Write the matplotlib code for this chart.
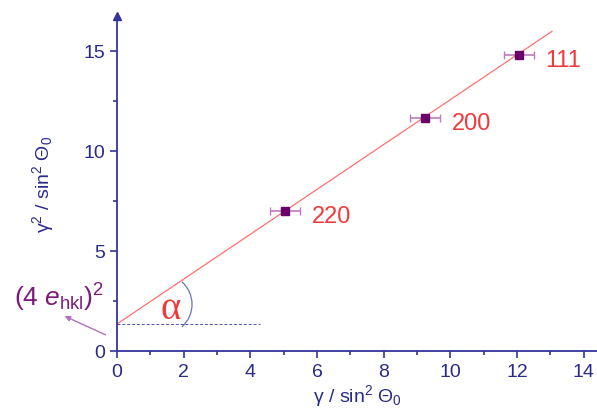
import matplotlib.pyplot as plt
from matplotlib.patches import Arc

plt.rcParams['font.family'] = ['Liberation Sans', 'DejaVu Sans']
plt.rcParams['mathtext.fontset'] = 'custom'
plt.rcParams['mathtext.rm'] = 'Liberation Sans'
plt.rcParams['mathtext.it'] = 'Liberation Sans:italic'

# Data
x_vals = [5.05, 9.25, 12.05]
y_vals = [7.0, 11.65, 14.8]
x_err = [0.45, 0.45, 0.45]
hkl = ['220', '200', '111']
intercept = 1.35
slope = 1.12
fit_x = [0, 13.05]

axis_col = '#34349c'
tick_col = '#2a2a88'
red = '#f03a3a'
purple = '#7a1a7a'

fig = plt.figure(figsize=(5.97, 4.10), dpi=100)
ax = fig.add_axes([0.196, 0.1415, 0.804, 0.818])

# Fit line
ax.plot(fit_x, [intercept + slope * v for v in fit_x], color='#ff7070', lw=0.9, zorder=2)

# Points with error bars
ax.errorbar(x_vals, y_vals, xerr=x_err, fmt='s', ms=5.5, color='#6a006a',
            ecolor='#c07ac0', elinewidth=1.2, capsize=3, capthick=1.0, zorder=3)
for xv, yv, lab in zip(x_vals, y_vals, hkl):
    ax.text(xv + 0.8, yv - 0.25, lab, color=red, fontsize=17, ha='left', va='center')

# Dashed horizontal line at intercept
ax.plot([0, 4.3], [intercept, intercept], ls=(0, (3, 2)), color='#5050a8', lw=0.7)

# Angle arc and alpha
ax.add_patch(Arc((1.35, 2.33), 1.8, 3.0, theta1=-62, theta2=62, color='#6a78b0', lw=0.9))
ax.text(1.62, 2.1, 'α', family='Liberation Serif', color=red, fontsize=28,
        ha='center', va='center')

# Intercept label with arrow
ax.annotate('', xy=(-1.65, 1.8), xytext=(-0.27, 0.75),
            arrowprops=dict(arrowstyle='-|>', color='#b070c0', lw=1.0, mutation_scale=8),
            annotation_clip=False)
ax.text(-1.75, 1.9, r'$(4\ \mathit{e}_{\mathrm{hkl}})^2$', color=purple, fontsize=19,
        ha='center', va='bottom', clip_on=False)

ax.set_xlim(0, 14.4)
ax.set_ylim(0, 16.75)
ax.spines['top'].set_visible(False)
ax.spines['right'].set_visible(False)
for s in ['left', 'bottom']:
    ax.spines[s].set_color(axis_col)
    ax.spines[s].set_linewidth(1.3)
ax.plot(0, 1, '^', color=axis_col, ms=6, transform=ax.transAxes, clip_on=False)

ax.set_xticks(range(0, 15, 2))
ax.set_xticks(range(1, 15, 2), minor=True)
ax.set_yticks([0, 5, 10, 15])
ax.set_yticks([2.5, 7.5, 12.5], minor=True)
ax.tick_params(which='major', length=5, width=1.2, color=axis_col, labelcolor=tick_col,
               labelsize=14, direction='out')
ax.tick_params(which='minor', length=3, width=1.2, color=axis_col, direction='out')

ax.set_xlabel('γ / sin$^2$ Θ$_0$', color=tick_col, fontsize=14, labelpad=2)
ax.set_ylabel('γ$^2$ / sin$^2$ Θ$_0$', color=tick_col, fontsize=14, labelpad=20)

fig.savefig('out.png', dpi=100)
